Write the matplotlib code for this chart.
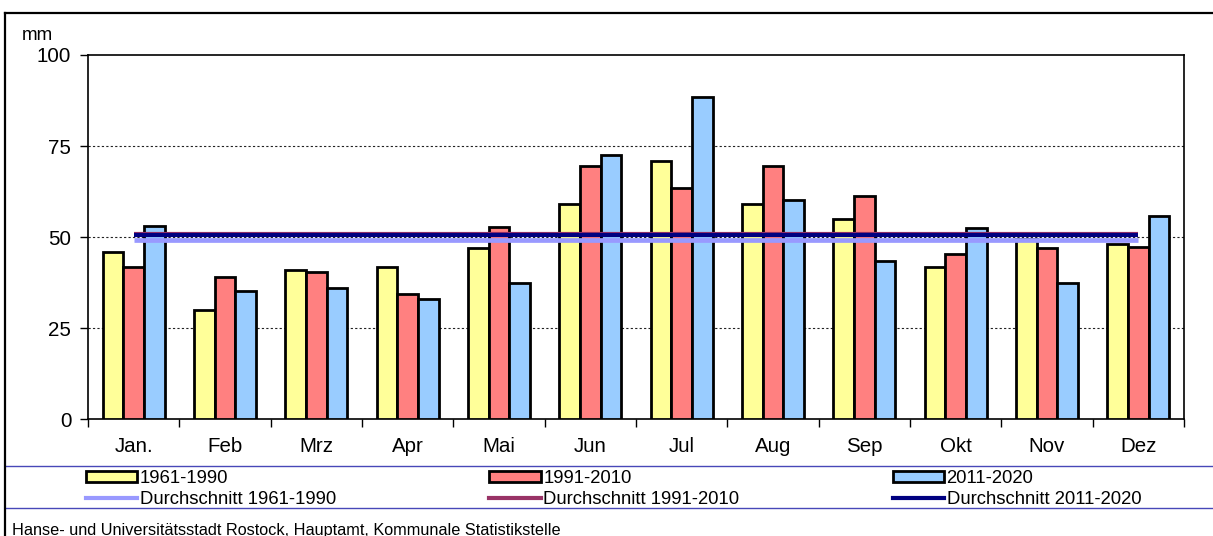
import matplotlib
matplotlib.use("Agg")
import matplotlib.pyplot as plt
from matplotlib.lines import Line2D
from matplotlib.patches import Patch
import numpy as np

plt.rcParams['font.family'] = ['Liberation Sans', 'DejaVu Sans']

months = ["Jan.", "Feb", "Mrz", "Apr", "Mai", "Jun", "Jul", "Aug", "Sep", "Okt", "Nov", "Dez"]
p1961_1990 = [46.0, 30.0, 40.9, 41.9, 47.0, 59.1, 71.0, 59.1, 54.9, 41.9, 49.5, 48.1]
p1991_2010 = [41.9, 39.1, 40.4, 34.5, 52.9, 69.4, 63.5, 69.4, 61.2, 45.5, 47.1, 47.3]
p2011_2020 = [53.1, 35.2, 36.0, 33.0, 37.5, 72.6, 88.6, 60.2, 43.4, 52.6, 37.4, 55.8]
avg_1961_1990 = 49.3
avg_1991_2010 = 51.0
avg_2011_2020 = 50.5

series_labels = ["1961-1990", "1991-2010", "2011-2020"]
avg_labels = ["Durchschnitt 1961-1990", "Durchschnitt 1991-2010", "Durchschnitt 2011-2020"]
bar_colors = ["#FFFF99", "#FF8080", "#99CCFF"]
avg_colors = ["#9999FF", "#993366", "#000080"]

W, H = 1213, 536
fig = plt.figure(figsize=(W / 100, H / 100), dpi=100)
ax = fig.add_axes([88 / W, 1 - 419.3 / H, (1184 - 88) / W, (419.3 - 55) / H])

x = np.arange(len(months))
bw = 0.227
for i, (vals, col) in enumerate(zip([p1961_1990, p1991_2010, p2011_2020], bar_colors)):
    ax.bar(x + (i - 1) * bw, vals, width=bw, color=col, edgecolor="black",
           linewidth=2.0, zorder=3, label=series_labels[i])

for val, col, lw in zip([avg_1961_1990, avg_1991_2010, avg_2011_2020], avg_colors, [3.4, 3.0, 3.0]):
    ax.plot([x[0], x[-1]], [val, val], color=col, linewidth=lw, zorder=4,
            solid_capstyle="butt")

ax.set_xlim(-0.5, len(months) - 0.5)
ax.set_ylim(0, 100)
ax.set_yticks([0, 25, 50, 75, 100])
ax.set_xticks(x)
ax.set_xticklabels(months, fontsize=14.8)
ax.set_xticks(np.arange(-0.5, len(months), 1.0), minor=True)
ax.tick_params(axis="x", which="major", length=0, pad=12.5)
ax.tick_params(axis="x", which="minor", length=6, width=1, direction="out")
ax.tick_params(axis="y", length=6, width=1, direction="out", pad=6, labelsize=14.8)
for y in [25, 50, 75]:
    ax.axhline(y, color="#222222", linewidth=0.8, linestyle=(0, (2, 2)), zorder=1)
for s in ax.spines.values():
    s.set_linewidth(1.2)
    s.set_color("black")

# legend
handles = []
for i in range(3):
    handles.append(Patch(facecolor=bar_colors[i], edgecolor="black", linewidth=2.0))
    handles.append(Line2D([0], [0], color=avg_colors[i], linewidth=3.0))
labels = []
for i in range(3):
    labels.append(series_labels[i])
    labels.append(avg_labels[i])
leg = fig.legend(handles, labels, ncol=3, loc="upper left",
                 bbox_to_anchor=(82 / W, 1 - 466.5 / H), frameon=False,
                 fontsize=13.3, handlelength=2.8, handleheight=0.55,
                 handletextpad=0.12, labelspacing=0.2, columnspacing=8.3,
                 borderpad=0.2, borderaxespad=0)

# separators and outer frame
for yy in [465.7, 507.7]:
    fig.add_artist(Line2D([5 / W, 1], [1 - yy / H, 1 - yy / H], color="#4848B8",
                          linewidth=1.0, transform=fig.transFigure))
fig.add_artist(Line2D([5 / W, 5 / W], [0, 1 - 13 / H], color="black", linewidth=1.6,
                      transform=fig.transFigure))
fig.add_artist(Line2D([5 / W, 1], [1 - 13 / H, 1 - 13 / H], color="black", linewidth=1.6,
                      transform=fig.transFigure))

fig.text(22 / W, 1 - 35 / H, "mm", fontsize=13.5, va="center", ha="left")
fig.text(12 / W, 1 - 534.5 / H, "Hanse- und Universitätsstadt Rostock, Hauptamt, Kommunale Statistikstelle",
         fontsize=11.7, va="baseline", ha="left")

fig.savefig("out.png", dpi=100)
